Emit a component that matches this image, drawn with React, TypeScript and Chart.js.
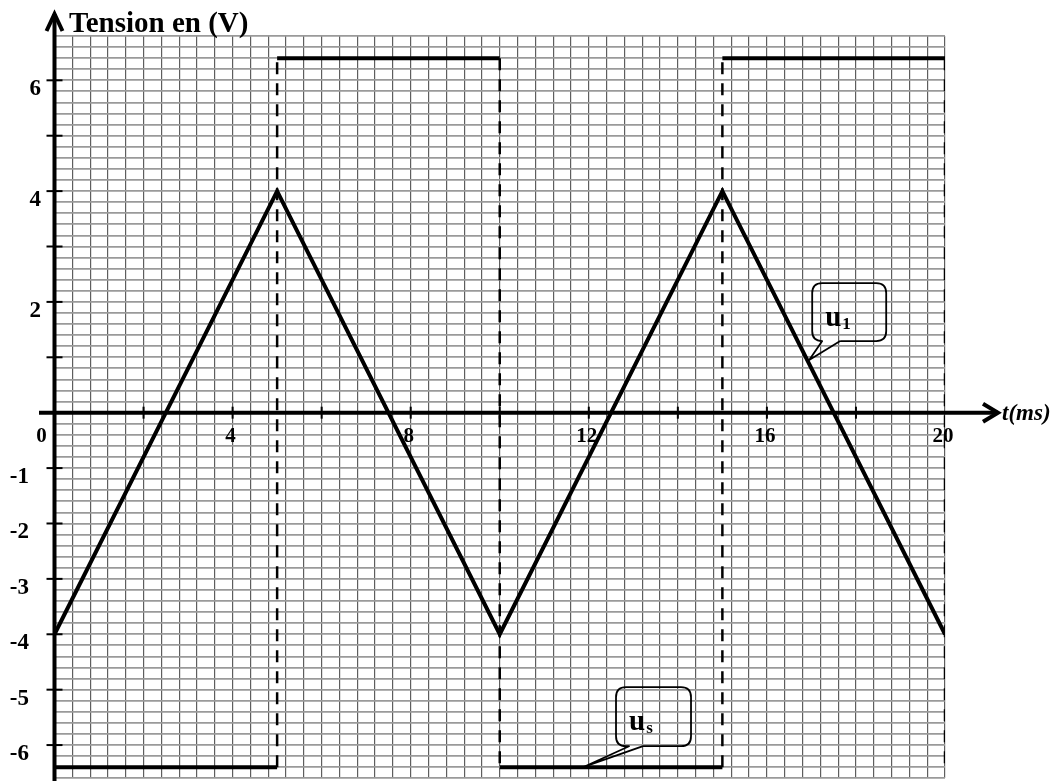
import React, { useEffect, useRef } from "react";
import { Chart, registerables } from "chart.js";

Chart.register(...registerables);

// Triangle signal u1 (ms, V)
const triangleTimes = [0, 5, 10, 15, 20];
const triangleVolts = [-4, 4, -4, 4, -4];

// Square signal us: level i holds from squareEdges[i] to squareEdges[i + 1]
const squareEdges = [0, 5, 10, 15, 20];
const squareLevels = [-6.4, 6.4, -6.4, 6.4, -6.4];

// Axis graduations and labels
const yTickValues = [-6, -5, -4, -3, -2, -1, 1, 2, 3, 4, 5, 6];
const yLabelValues = [6, 4, 2, -1, -2, -3, -4, -5, -6];
const xTickValues = [2, 4, 6, 8, 10, 12, 14, 16, 18];
const xLabelValues = [4, 8, 12, 16, 20];

// Callout anchors (ms, V) with their labels
const calloutNames = ["u", "u"];
const calloutSubs = ["1", "s"];
const calloutTimes = [16.95, 11.87];
const calloutVolts = [0.95, -6.4];

// Bubble shapes in px, relative to each anchor point
const bubbleShapes = [
  { left: 3, top: -77, right: 77, bottom: -19, tailA: 13, tailB: 31 },
  { left: 33, top: -80, right: 108, bottom: -21, tailA: 46, tailB: 60 },
];

const SERIF = "'Liberation Serif', 'Times New Roman', serif";

function buildSquareLevels() {
  const pts: { x: number; y: number | null }[] = [];
  for (let i = 0; i < squareEdges.length - 1; i++) {
    pts.push({ x: squareEdges[i], y: squareLevels[i] });
    pts.push({ x: squareEdges[i + 1], y: squareLevels[i] });
    pts.push({ x: squareEdges[i + 1], y: null });
  }
  return pts;
}

function buildSquareEdges() {
  const pts: { x: number; y: number | null }[] = [];
  for (let i = 1; i < squareEdges.length; i++) {
    pts.push({ x: squareEdges[i], y: squareLevels[i - 1] });
    pts.push({ x: squareEdges[i], y: squareLevels[i] });
    pts.push({ x: squareEdges[i], y: null });
  }
  return pts;
}

function drawBubble(ctx: CanvasRenderingContext2D, tx: number, ty: number, s: typeof bubbleShapes[0]) {
  const l = tx + s.left, t = ty + s.top, r = tx + s.right, b = ty + s.bottom;
  const rad = 10;
  const a = tx + s.tailA, c = tx + s.tailB;
  ctx.beginPath();
  ctx.moveTo(c, b);
  ctx.lineTo(r - rad, b);
  ctx.quadraticCurveTo(r, b, r, b - rad);
  ctx.lineTo(r, t + rad);
  ctx.quadraticCurveTo(r, t, r - rad, t);
  ctx.lineTo(l + rad, t);
  ctx.quadraticCurveTo(l, t, l, t + rad);
  ctx.lineTo(l, b - rad);
  ctx.quadraticCurveTo(l, b, l + rad, b);
  ctx.lineTo(a, b);
  ctx.lineTo(tx, ty);
  ctx.lineTo(c, b);
  ctx.strokeStyle = "#000";
  ctx.lineWidth = 1.8;
  ctx.lineJoin = "round";
  ctx.stroke();
}

const axesPlugin = {
  id: "physicsAxes",
  afterDatasetsDraw(chart: any) {
    const ctx: CanvasRenderingContext2D = chart.ctx;
    const xs = chart.scales.x;
    const ys = chart.scales.y;
    const x0 = xs.getPixelForValue(0);
    const y0 = ys.getPixelForValue(0);
    ctx.save();
    ctx.strokeStyle = "#000";
    ctx.fillStyle = "#000";
    ctx.lineCap = "butt";
    ctx.lineJoin = "miter";

    // vertical axis with arrow
    ctx.lineWidth = 4;
    ctx.beginPath();
    ctx.moveTo(x0, 14);
    ctx.lineTo(x0, chart.height);
    ctx.stroke();
    ctx.beginPath();
    ctx.moveTo(x0 - 8, 31);
    ctx.lineTo(x0, 14);
    ctx.lineTo(x0 + 8, 31);
    ctx.stroke();

    // horizontal axis with arrow
    const xEnd = 998;
    ctx.beginPath();
    ctx.moveTo(39, y0);
    ctx.lineTo(xEnd, y0);
    ctx.stroke();
    ctx.beginPath();
    ctx.moveTo(xEnd - 15, y0 - 9);
    ctx.lineTo(xEnd, y0);
    ctx.lineTo(xEnd - 15, y0 + 9);
    ctx.stroke();

    // graduations
    ctx.lineWidth = 2;
    yTickValues.forEach((v) => {
      const py = ys.getPixelForValue(v);
      ctx.beginPath();
      ctx.moveTo(x0 - 8, py);
      ctx.lineTo(x0 + 8, py);
      ctx.stroke();
    });
    xTickValues.forEach((v) => {
      const px = xs.getPixelForValue(v);
      ctx.beginPath();
      ctx.moveTo(px, y0 - 6);
      ctx.lineTo(px, y0 + 6);
      ctx.stroke();
    });

    // y labels
    ctx.font = `bold 23px ${SERIF}`;
    ctx.textAlign = "right";
    ctx.textBaseline = "alphabetic";
    yLabelValues.forEach((v) => {
      const py = ys.getPixelForValue(v);
      const rx = v > 0 ? 41 : 29;
      ctx.fillText(String(v), rx, py + 15);
    });

    // x labels
    ctx.font = `bold 21px ${SERIF}`;
    ctx.textAlign = "center";
    ctx.fillText("0", 41.5, y0 + 29);
    xLabelValues.forEach((v) => {
      const px = xs.getPixelForValue(v);
      ctx.fillText(String(v), px - 2, y0 + 29);
    });

    // axis titles
    ctx.textAlign = "left";
    ctx.font = `bold 29px ${SERIF}`;
    ctx.fillText("Tension en (V)", 69, 32);
    ctx.font = `italic bold 23px ${SERIF}`;
    ctx.fillText("t(ms)", 1002, y0 + 7);

    // callouts
    for (let i = 0; i < calloutNames.length; i++) {
      const tx = xs.getPixelForValue(calloutTimes[i]);
      const ty = ys.getPixelForValue(calloutVolts[i]);
      const s = bubbleShapes[i];
      drawBubble(ctx, tx, ty, s);
      const bx = tx + s.left + 13;
      const by = ty + s.top + 43;
      ctx.fillStyle = "#000";
      ctx.font = `bold 29px ${SERIF}`;
      ctx.textAlign = "left";
      ctx.fillText(calloutNames[i], bx, by);
      const w = ctx.measureText(calloutNames[i]).width;
      ctx.font = `bold 17px ${SERIF}`;
      ctx.fillText(calloutSubs[i], bx + w + 1, by + 3);
    }
    ctx.restore();
  },
};

export default function App() {
  const canvasRef = useRef<HTMLCanvasElement | null>(null);

  useEffect(() => {
    const canvas = canvasRef.current;
    if (!canvas) return;
    const chart = new Chart(canvas, {
      type: "line",
      data: {
        datasets: [
          {
            label: "u1",
            data: triangleTimes.map((t, i) => ({ x: t, y: triangleVolts[i] })),
            borderColor: "#000",
            borderWidth: 4,
            pointRadius: 0,
            tension: 0,
            borderJoinStyle: "miter",
            fill: false,
          },
          {
            label: "us",
            data: buildSquareLevels(),
            borderColor: "#000",
            borderWidth: 4,
            pointRadius: 0,
            tension: 0,
            spanGaps: false,
            fill: false,
          },
          {
            label: "us-edges",
            data: buildSquareEdges(),
            borderColor: "#000",
            borderWidth: 2.5,
            borderDash: [12, 9],
            pointRadius: 0,
            tension: 0,
            spanGaps: false,
            fill: false,
          },
        ],
      },
      options: {
        responsive: false,
        animation: false,
        devicePixelRatio: 1,
        events: [],
        layout: { padding: { left: 54.5, right: 112, top: 36, bottom: 2.7 } },
        plugins: {
          legend: { display: false },
          tooltip: { enabled: false },
          title: { display: false },
        },
        scales: {
          x: {
            type: "linear",
            min: 0,
            max: 20,
            ticks: { display: false, stepSize: 0.4 },
            grid: { color: "#5e5e5e", lineWidth: 1.2, drawTicks: false },
            border: { display: false },
          },
          y: {
            type: "linear",
            min: -6.6,
            max: 6.8,
            ticks: { display: false, stepSize: 0.2 },
            grid: { color: "#9a9a9a", lineWidth: 1.8, drawTicks: false },
            border: { display: false },
          },
        },
      },
      plugins: [axesPlugin],
    } as any);
    return () => chart.destroy();
  }, []);

  return (
    <div style={{ position: "fixed", left: 0, top: 0, width: 1057, height: 781, background: "#fff" }}>
      <canvas ref={canvasRef} width={1057} height={781} style={{ display: "block" }} />
    </div>
  );
}
